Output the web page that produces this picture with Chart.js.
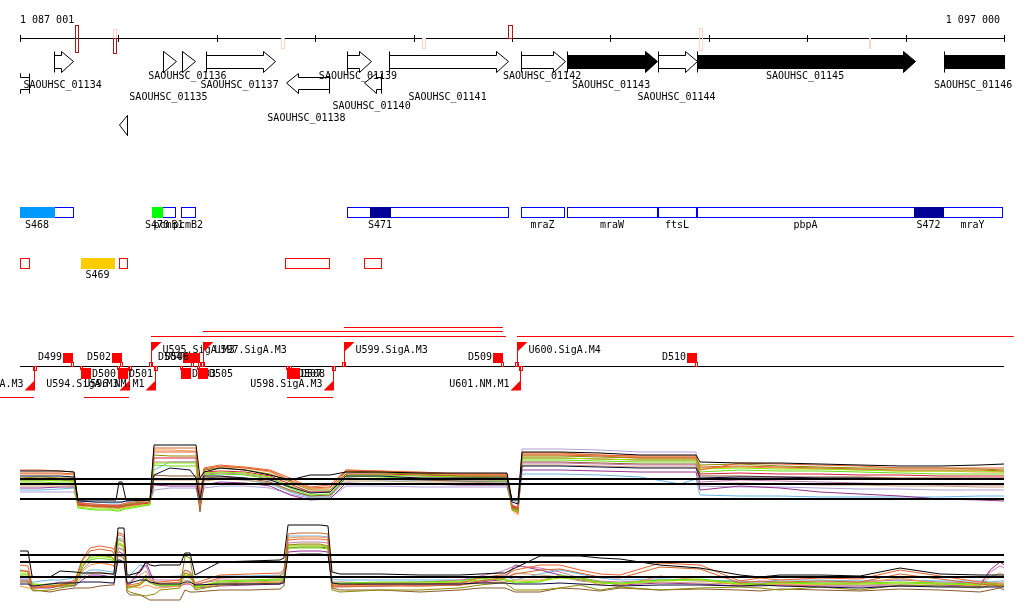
<!DOCTYPE html>
<html><head><meta charset="utf-8">
<script src="https://cdn.jsdelivr.net/npm/chart.js@4.4.0/dist/chart.umd.min.js"></script>
<style>
html,body{margin:0;padding:0;background:#fff;width:1024px;height:611px;overflow:hidden;}
.wrap{position:absolute;left:0;width:1024px;}
canvas{display:block;}
</style></head><body>
<div class="wrap" style="top:0;height:430px"><canvas id="tracks" width="1024" height="430"></canvas></div>
<div class="wrap" style="top:430px;height:95px"><canvas id="p1" width="1024" height="95"></canvas></div>
<div class="wrap" style="top:515px;height:96px"><canvas id="p2" width="1024" height="96"></canvas></div>
<script>
// ---------------- DATA ----------------
const RANGE_START = 1087001, RANGE_END = 1097001;
const axisTicks = [1087001,1088001,1089001,1090001,1091001,1092001,1093001,1094001,1095001,1096001,1097001];
const axisLabels = ['1 087 001', '1 097 000'];

const markerStart = [1087560,1087946,1087946,1089653,1091086,1091961,1093902,1095630];
const markerEnd   = [1087590,1087977,1087977,1089684,1091117,1092001,1093932,1095640];
const markerLevel = ['strong','weak','strong','weak','weak','strong','weak','weak'];
const markerSide  = ['both','above','below','below','below','above','both','below'];

const geneNames  = ['','SAOUHSC_01134','SAOUHSC_01135','SAOUHSC_01136','SAOUHSC_01137','SAOUHSC_01138','SAOUHSC_01139','SAOUHSC_01140','SAOUHSC_01141','SAOUHSC_01142','SAOUHSC_01143','SAOUHSC_01144','SAOUHSC_01145','SAOUHSC_01146',''];
const geneStart  = [1086884,1087347,1088454,1088647,1088891,1089704,1090324,1090497,1090751,1092093,1092560,1093485,1093881,1096392,1088007];
const geneEnd    = [1087092,1087540,1088586,1088779,1089593,1090141,1090568,1090670,1091961,1092540,1093475,1093881,1096097,1097266,1088088];
const geneStrand = ['-','+','+','+','+','-','+','-','+','+','+','+','+','+','-'];
const geneFilled = [false,false,false,false,false,false,false,false,false,false,true,false,true,true,false];

const annoNames = ['S468','','S470','pcmB1','pcmB2','','S471','mraZ','mraW','ftsL','pbpA','S472','mraY'];
const annoStart = [1087001,1087347,1088342,1088444,1088637,1090324,1090558,1092093,1092560,1093485,1093881,1096087,1096381];
const annoEnd   = [1087347,1087540,1088444,1088576,1088779,1091961,1090761,1092530,1093475,1093871,1096087,1096381,1096981];
const annoKind  = ['sRNA1','CDS','sRNA2','CDS','CDS','CDS','sRNA3','CDS','CDS','CDS','CDS','sRNA3','CDS'];

const otherNames = ['','S469','','',''];
const otherStart = [1087001,1087621,1088007,1089694,1090497];
const otherEnd   = [1087092,1087956,1088088,1090141,1090670];
const otherKind  = ['region','sRNA','region','region','region'];

const termNames  = ['D499','D500','D501','D502','D503','D504','D505','D506','D507','D508','D509','D510'];
const termPos    = [1087540,1087621,1087997,1088038,1088637,1088759,1088810,1088830,1089714,1089745,1091910,1093881];
const termStrand = ['+','-','-','+','-','+','-','+','-','-','+','+'];

const promNames  = ['U593.SigA.M3','U594.SigA.M3','U595.SigA.M3','U596.NM.M1','U597.SigA.M3','U598.SigA.M3','U599.SigA.M3','U600.SigA.M4','U601.NM.M1'];
const promPos    = [1087143,1088109,1088332,1088373,1088861,1090182,1090294,1092052,1092083];
const promStrand = ['-','-','+','-','+','-','+','+','-'];
const promTxEnd  = [1086700,1087651,1091940,null,1091910,1089714,1091910,1097100,null];

// expression panel 1
const p1Positions = [1087001,1087204,1087408,1087550,1087590,1087763,1087916,1087977,1088007,1088038,1088078,1088322,1088363,1088525,1088729,1088790,1088830,1088871,1089034,1089288,1089542,1089745,1089948,1090152,1090314,1090660,1091066,1091473,1091879,1091950,1092001,1092062,1092103,1092489,1092896,1093302,1093709,1093871,1093912,1094318,1094725,1095131,1095538,1095944,1096351,1096757,1097001];
const p1RefLevels = [46,41,26];
const p1Black     = [54,54,54,53,25,25,25,25,43,43,25,25,80,80,80,80,47,53,57,55,50,45,50,50,53,53,52,52,52,52,25,25,73,73,72,70,70,70,63,62,62,61,60,59,59,60,61];
const p1OrangeRed = [55,55,54,53,22,21,20,20,20,21,22,25,73,73,73,73,30,57,60,58,55,47,38,40,55,54,53,51,51,51,20,17,72,72,70,69,69,69,55,62,61,60,59,57,57,57,57];
const p1Olive     = [47,48,47,47,20,19,18,18,17,19,20,25,70,69,69,69,25,55,57,55,51,43,35,35,53,52,51,49,49,49,17,15,69,69,68,67,67,67,60,61,59,58,57,57,57,56,55];
const p1Green     = [43,43,42,42,17,15,15,14,14,15,16,20,60,59,59,59,20,50,51,50,46,37,30,31,49,48,47,46,45,45,15,13,65,65,64,63,63,63,53,55,54,54,53,52,51,51,51];
const p1LightBlue = [35,35,36,37,25,23,22,22,22,23,24,25,55,63,63,63,22,45,47,45,41,33,28,28,47,45,45,44,43,43,25,22,51,51,50,48,41,46,30,29,29,28,28,28,28,29,29];
const p1Purple    = [37,37,38,38,23,20,19,19,19,20,21,23,40,39,39,39,17,40,43,42,39,30,25,26,42,41,41,40,40,40,17,15,55,55,54,53,53,53,35,39,37,33,31,29,26,25,24];
const p1Navy      = [49,49,49,48,24,23,23,23,23,23,24,25,50,57,55,47,25,49,49,47,45,38,32,33,49,49,47,47,47,47,23,21,59,59,58,57,57,57,47,48,48,47,47,46,46,46,46];
const p1Mauve     = [41,41,41,40,21,19,18,18,18,19,19,22,63,63,63,63,23,51,52,51,47,39,33,33,51,50,49,48,48,48,19,17,62,62,61,60,60,60,43,45,44,43,42,41,40,40,40];
const p1Orange    = [51,51,51,50,19,18,17,17,17,17,18,21,75,75,74,74,19,55,58,57,53,44,36,37,55,54,52,50,50,50,15,10,71,71,70,68,68,68,57,58,57,56,55,54,54,53,53];
const p1Lavender  = [33,33,33,33,22,20,20,20,20,20,21,23,35,37,37,37,21,37,39,39,37,31,27,27,39,39,38,38,38,38,20,18,76,76,75,73,73,73,39,38,38,37,36,36,35,35,35];
const p1Brown     = [45,45,45,44,20,18,18,17,17,18,19,22,50,49,49,49,13,47,48,47,43,35,29,30,47,46,45,44,44,44,18,16,63,63,62,61,61,61,49,49,48,48,48,47,47,47,47];
const p1Red       = [46,46,46,45,21,19,19,19,19,19,20,22,67,67,67,67,20,53,54,53,49,41,33,33,51,51,50,49,49,49,19,17,67,67,66,65,65,65,51,52,51,51,50,50,49,49,49];
const p1Lime      = [45,45,44,44,18,16,16,15,15,16,17,21,62,62,62,62,21,52,53,52,48,39,32,33,50,50,49,48,47,47,16,14,67,67,66,65,65,65,56,57,56,56,55,54,54,54,53];
const p1Chocolate = [52,52,52,51,20,19,18,18,18,18,19,23,77,77,77,77,18,56,59,57,54,45,37,38,54,53,52,51,51,51,16,12,70,70,69,67,67,67,58,59,58,57,56,55,55,55,54];
const p1Tan       = [39,39,39,39,22,20,19,19,19,20,21,23,45,45,45,45,22,44,46,45,42,34,29,29,44,44,43,43,42,42,19,17,60,60,59,58,58,58,41,42,41,40,40,39,39,38,38];

// expression panel 2
const p2Positions = [1087001,1087082,1087123,1087143,1087306,1087408,1087560,1087631,1087712,1087814,1087936,1087956,1087997,1088017,1088058,1088088,1088118,1088221,1088282,1088322,1088373,1088424,1088627,1088678,1088729,1088780,1089034,1089338,1089643,1089683,1089725,1089847,1090050,1090131,1090172,1090253,1090660,1091066,1091473,1091676,1091879,1091930,1092032,1092286,1092489,1092692,1092896,1093099,1093505,1093912,1094318,1094521,1094725,1095131,1095538,1095944,1096351,1096757,1096859,1096961,1097001];
const p2RefLevels = [56,49,34];
const p2Black     = [60,60,35,34,34,40,39,38,38,38,37,37,83,83,83,36,36,39,49,46,45,46,46,58,58,36,49,50,51,53,86,86,86,85,39,37,37,36,36,37,38,38,43,55,55,55,53,52,46,43,36,34,36,36,35,43,37,36,36,36,36];
const p2OrangeRed = [46,45,26,25,25,26,31,51,63,65,63,61,76,76,74,26,26,28,36,31,29,29,31,41,39,28,36,37,38,41,71,72,72,71,26,26,27,27,28,33,36,36,41,46,46,41,37,36,48,46,30,33,31,33,32,41,35,29,28,28,28];
const p2Olive     = [41,39,21,20,21,23,26,43,55,56,54,51,71,71,69,21,19,16,15,16,17,21,23,55,53,21,26,27,28,31,66,67,67,65,21,19,21,21,23,26,28,28,21,21,23,26,21,24,21,23,24,23,21,24,21,26,25,23,26,25,25];
const p2Green     = [36,36,28,27,26,25,26,46,51,53,51,48,66,66,63,23,23,26,31,28,26,25,26,36,35,23,29,30,31,33,63,63,63,62,28,28,29,29,30,33,31,31,28,29,36,33,29,28,31,32,28,27,29,28,28,29,28,27,28,27,27];
const p2LightBlue = [33,33,29,29,31,31,33,36,41,41,39,39,73,73,71,33,36,46,45,36,34,34,35,41,39,33,35,35,36,39,75,75,75,74,32,31,31,31,31,33,35,35,31,37,41,37,33,31,32,31,30,29,31,31,30,31,30,30,29,30,30];
const p2Purple    = [31,31,23,23,23,25,25,31,36,36,34,33,59,59,56,25,27,41,49,39,26,25,25,27,27,23,25,26,27,28,59,60,60,59,25,25,25,26,26,29,31,33,46,41,36,31,29,26,28,27,25,25,26,25,25,25,26,25,41,49,46];
const p2Navy      = [27,27,25,25,27,28,28,29,29,29,28,28,51,51,49,28,28,31,31,29,28,27,27,29,29,26,27,27,27,29,56,57,57,56,28,27,27,27,27,28,28,28,27,27,28,27,26,25,26,26,25,26,25,24,23,25,24,24,24,24,24];
const p2Mauve     = [35,34,27,26,27,29,29,41,49,49,46,45,63,63,61,27,29,39,46,35,31,31,31,34,33,27,31,31,32,34,68,69,69,68,29,29,28,29,31,35,39,41,45,43,39,33,30,29,31,30,29,29,28,29,29,31,29,28,39,45,43];
const p2Brown     = [29,29,21,21,19,21,23,23,23,25,26,26,55,55,53,19,16,16,13,11,11,11,11,21,19,19,21,21,22,25,63,64,64,63,23,21,21,19,21,23,23,23,19,19,23,22,20,23,21,22,21,20,22,21,20,22,21,19,21,23,21];
const p2Orange    = [25,23,23,23,25,26,28,39,46,48,46,44,67,67,65,24,25,23,26,25,23,23,25,28,27,23,27,28,29,31,73,74,74,73,26,25,26,25,26,28,29,29,31,31,35,33,26,25,35,31,26,27,26,26,28,33,27,25,25,25,25];
const p2Lime      = [38,37,27,26,27,27,28,48,53,55,53,50,68,68,65,24,24,27,33,29,27,26,27,38,37,24,30,31,32,35,65,65,65,64,27,27,28,28,29,31,32,32,29,30,33,32,28,27,30,31,27,26,28,27,27,28,27,26,27,26,26];
const p2Chocolate = [40,40,24,23,24,25,29,50,60,62,60,57,78,78,76,24,24,26,32,29,27,27,29,38,36,26,33,34,35,38,77,78,78,77,24,24,25,25,26,30,33,33,37,41,42,38,34,33,44,42,28,30,29,30,29,37,32,27,26,26,26];
const p2Tan       = [30,30,24,24,25,26,27,34,38,39,37,36,62,62,60,26,28,36,40,33,29,28,28,31,30,25,28,29,30,32,66,66,66,65,27,27,27,27,28,30,32,33,38,36,34,30,28,27,29,28,27,27,27,27,26,27,27,26,34,38,36];

// ---------------- LAYOUT / STYLE ----------------
const FONT = '10px "DejaVu Sans Mono", "Liberation Mono", monospace';
const AXIS_Y = 38.5;
const GENE_LANES = [{top:51,bot:72,st:55,sb:68},{top:73,bot:93,st:77,sb:89},{top:115,bot:135,st:119,sb:131}];
const geneLane = [1,0,0,0,0,1,0,1,0,0,0,0,0,0,2];
const geneLabelY = [null,85,97,76,85,118,76,106,97,76,85,97,76,85,null];
const ANNO_TOP = 207, ANNO_BOT = 217, ANNO_LABEL_Y = 225;
const OTHER_TOP = 258, OTHER_BOT = 268, OTHER_LABEL_Y = 275;
const TX_LINE_Y = 366.5;
const promLaneY = [397,397,336,null,331,397,327,336,null];
const RED = '#ff0000';

const trackPlugin = {
  id: 'tracks',
  afterDraw(chart) {
    const ctx = chart.ctx, xs = chart.scales.x, area = chart.chartArea;
    const X = v => xs.getPixelForValue(v);
    const R = v => Math.round(X(v));
    ctx.save();
    ctx.font = FONT;
    ctx.textBaseline = 'middle';
    ctx.lineWidth = 1;

    // ---- coordinate axis ----
    ctx.strokeStyle = '#000';
    ctx.beginPath();
    ctx.moveTo(X(RANGE_START), AXIS_Y); ctx.lineTo(X(RANGE_END), AXIS_Y);
    axisTicks.forEach(t => { const x = R(t) + 0.5; ctx.moveTo(x, 35); ctx.lineTo(x, 42); });
    ctx.stroke();
    ctx.fillStyle = '#000';
    ctx.textAlign = 'left'; ctx.fillText(axisLabels[0], X(RANGE_START), 20);
    ctx.textAlign = 'right'; ctx.fillText(axisLabels[1], X(RANGE_END) - 4, 20);

    // ---- markers on axis ----
    markerStart.forEach((s, i) => {
      const strong = markerLevel[i] === 'strong';
      let t, b;
      if (markerSide[i] === 'both') { t = strong ? 25 : 28; b = strong ? 52 : 50; }
      else if (markerSide[i] === 'above') { t = strong ? 25 : 29; b = 38; }
      else { t = 38; b = strong ? 53 : 48; }
      const x1 = R(s), x2 = Math.max(R(markerEnd[i]), x1 + 1);
      ctx.strokeStyle = strong ? '#b01818' : '#ffd2c2';
      ctx.strokeRect(x1 + 0.5, t + 0.5, x2 - x1, b - t);
    });

    // ---- genes ----
    ctx.save();
    ctx.beginPath(); ctx.rect(area.left, 0, area.right - area.left + 1, 430); ctx.clip();
    geneStart.forEach((s, i) => {
      const L = GENE_LANES[geneLane[i]];
      const x1 = R(s) + 0.5, x2 = R(geneEnd[i]) + 0.5;
      const len = x2 - x1, hl = Math.min(12, len), yc = (L.top + L.bot) / 2;
      const top = L.top + 0.5, bot = L.bot + 0.5, st = L.st + 0.5, sb = L.sb + 0.5;
      ctx.beginPath();
      if (geneStrand[i] === '+') {
        if (len <= 14) { ctx.moveTo(x1, top); ctx.lineTo(x2, yc); ctx.lineTo(x1, bot); }
        else {
          ctx.moveTo(x1, st); ctx.lineTo(x2 - hl, st); ctx.lineTo(x2 - hl, top); ctx.lineTo(x2, yc);
          ctx.lineTo(x2 - hl, bot); ctx.lineTo(x2 - hl, sb); ctx.lineTo(x1, sb);
        }
      } else {
        if (len <= 14) { ctx.moveTo(x2, top); ctx.lineTo(x1, yc); ctx.lineTo(x2, bot); }
        else {
          ctx.moveTo(x2, st); ctx.lineTo(x1 + hl, st); ctx.lineTo(x1 + hl, top); ctx.lineTo(x1, yc);
          ctx.lineTo(x1 + hl, bot); ctx.lineTo(x1 + hl, sb); ctx.lineTo(x2, sb);
        }
      }
      ctx.closePath();
      ctx.fillStyle = geneFilled[i] ? '#000' : '#fff';
      ctx.fill();
      ctx.strokeStyle = '#000'; ctx.stroke();
      const bx = geneStrand[i] === '+' ? x1 : x2;
      ctx.beginPath(); ctx.moveTo(bx, top); ctx.lineTo(bx, bot); ctx.stroke();
    });
    ctx.restore();
    ctx.fillStyle = '#000'; ctx.textAlign = 'center';
    geneNames.forEach((n, i) => {
      if (!n) return;
      const a = Math.max(X(geneStart[i]), area.left), b = Math.min(X(geneEnd[i]), area.right);
      ctx.fillText(n, (a + b) / 2 - 1, geneLabelY[i]);
    });

    // ---- annotation track (blue) ----
    const annoFill = {sRNA1: '#0099ff', sRNA2: '#00ff00', sRNA3: '#000099'};
    annoStart.forEach((s, i) => {
      if (annoKind[i] !== 'CDS') return;
      const x1 = R(s), x2 = R(annoEnd[i]);
      ctx.fillStyle = '#fff'; ctx.fillRect(x1, ANNO_TOP, x2 - x1, ANNO_BOT - ANNO_TOP);
      ctx.strokeStyle = '#0000ff'; ctx.strokeRect(x1 + 0.5, ANNO_TOP + 0.5, x2 - x1, ANNO_BOT - ANNO_TOP);
    });
    annoStart.forEach((s, i) => {
      if (annoKind[i] === 'CDS') return;
      const x1 = R(s), x2 = R(annoEnd[i]);
      ctx.fillStyle = annoFill[annoKind[i]];
      ctx.fillRect(x1, ANNO_TOP, x2 - x1 + 1, ANNO_BOT - ANNO_TOP + 1);
    });
    ctx.fillStyle = '#000'; ctx.textAlign = 'center';
    annoNames.forEach((n, i) => { if (n) ctx.fillText(n, (X(annoStart[i]) + X(annoEnd[i])) / 2, ANNO_LABEL_Y); });

    // ---- other track (red / yellow) ----
    otherStart.forEach((s, i) => {
      const x1 = R(s), x2 = R(otherEnd[i]);
      if (otherKind[i] === 'sRNA') { ctx.fillStyle = '#ffcc00'; ctx.fillRect(x1, OTHER_TOP, x2 - x1 + 1, OTHER_BOT - OTHER_TOP + 1); }
      else { ctx.strokeStyle = RED; ctx.strokeRect(x1 + 0.5, OTHER_TOP + 0.5, x2 - x1, OTHER_BOT - OTHER_TOP); }
    });
    ctx.fillStyle = '#000';
    otherNames.forEach((n, i) => { if (n) ctx.fillText(n, (X(otherStart[i]) + X(otherEnd[i])) / 2, OTHER_LABEL_Y); });

    // ---- transcription units ----
    ctx.strokeStyle = '#000';
    ctx.beginPath(); ctx.moveTo(X(RANGE_START), TX_LINE_Y); ctx.lineTo(X(RANGE_END), TX_LINE_Y); ctx.stroke();
    ctx.strokeStyle = RED; ctx.fillStyle = RED;
    promPos.forEach((p, i) => {
      if (promTxEnd[i] === null) return;
      const y = promLaneY[i] + 0.5;
      ctx.beginPath(); ctx.moveTo(X(p), y); ctx.lineTo(X(promTxEnd[i]), y); ctx.stroke();
    });
    promPos.forEach((p, i) => {
      const x = R(p) + 0.5;
      ctx.fillStyle = RED; ctx.strokeStyle = RED;
      if (promStrand[i] === '+') {
        ctx.beginPath(); ctx.moveTo(x, 342); ctx.lineTo(x, 366); ctx.stroke();
        ctx.beginPath(); ctx.moveTo(x - 0.5, 342); ctx.lineTo(x + 10, 342); ctx.lineTo(x - 0.5, 352); ctx.closePath(); ctx.fill();
        ctx.strokeRect(x - 2, 362.5, 3, 4);
        ctx.fillStyle = '#000'; ctx.textAlign = 'left'; ctx.fillText(promNames[i], x + 11, 350);
      } else {
        ctx.beginPath(); ctx.moveTo(x, 367); ctx.lineTo(x, 390); ctx.stroke();
        ctx.beginPath(); ctx.moveTo(x + 0.5, 390.5); ctx.lineTo(x - 10, 390.5); ctx.lineTo(x + 0.5, 380); ctx.closePath(); ctx.fill();
        ctx.strokeRect(x - 1, 366.5, 3, 4);
        ctx.fillStyle = '#000'; ctx.textAlign = 'right'; ctx.fillText(promNames[i], x - 11, 384);
      }
    });
    termPos.forEach((p, i) => {
      const x = R(p);
      ctx.fillStyle = RED; ctx.strokeStyle = RED;
      if (termStrand[i] === '+') {
        ctx.fillRect(x - 10, 353, 10, 10);
        ctx.strokeRect(x - 2 + 0.5, 362.5, 2, 4);
        ctx.fillStyle = '#000'; ctx.textAlign = 'right'; ctx.fillText(termNames[i], x - 11, 357);
      } else {
        ctx.fillRect(x, 368, 10, 11);
        ctx.strokeRect(x - 1 + 0.5, 366.5, 2, 3);
        ctx.fillStyle = '#000'; ctx.textAlign = 'left'; ctx.fillText(termNames[i], x + 11, 374);
      }
    });
    ctx.restore();
  }
};

function baseOptions(ymin, ymax) {
  return {
    responsive: false, animation: false, devicePixelRatio: 1, events: [],
    layout: {padding: {left: 20, right: 20, top: 0, bottom: 0}},
    plugins: {legend: {display: false}, tooltip: {enabled: false}},
    scales: {
      x: {type: 'linear', min: RANGE_START, max: RANGE_END, display: false},
      y: {type: 'linear', min: ymin, max: ymax, display: false}
    }
  };
}

new Chart(document.getElementById('tracks'), {
  type: 'scatter',
  data: {datasets: []},
  options: baseOptions(0, 430),
  plugins: [trackPlugin]
});

function series(pos, vals, color) {
  return {data: pos.map((x, i) => ({x: x, y: vals[i]})), borderColor: color, borderWidth: 1,
          pointRadius: 0, fill: false, tension: 0};
}
function refLine(v) {
  return {data: [{x: RANGE_START, y: v}, {x: RANGE_END, y: v}], borderColor: '#000', borderWidth: 2,
          pointRadius: 0, fill: false};
}
const COLORS = {black:'#000000', orangeRed:'#e8602c', olive:'#8a8a00', green:'#66dd11', lightBlue:'#66b8e8',
  purple:'#9b2f8f', navy:'#0a0a3c', mauve:'#cc77aa', orange:'#ff9040', lavender:'#b0a0d8', brown:'#8b5a2b',
  red:'#dd1a3a', lime:'#88ee00', chocolate:'#d2642a', tan:'#c8a070'};

new Chart(document.getElementById('p1'), {
  type: 'line',
  data: {datasets: [
    ...p1RefLevels.map(refLine),
    series(p1Positions, p1Black, COLORS.black),
    series(p1Positions, p1Navy, COLORS.navy),
    series(p1Positions, p1OrangeRed, COLORS.orangeRed),
    series(p1Positions, p1Chocolate, COLORS.chocolate),
    series(p1Positions, p1Olive, COLORS.olive),
    series(p1Positions, p1Lime, COLORS.lime),
    series(p1Positions, p1Green, COLORS.green),
    series(p1Positions, p1Orange, COLORS.orange),
    series(p1Positions, p1Red, COLORS.red),
    series(p1Positions, p1Mauve, COLORS.mauve),
    series(p1Positions, p1Brown, COLORS.brown),
    series(p1Positions, p1Tan, COLORS.tan),
    series(p1Positions, p1Purple, COLORS.purple),
    series(p1Positions, p1LightBlue, COLORS.lightBlue),
    series(p1Positions, p1Lavender, COLORS.lavender)
  ]},
  options: baseOptions(0, 95)
});

new Chart(document.getElementById('p2'), {
  type: 'line',
  data: {datasets: [
    ...p2RefLevels.map(refLine),
    series(p2Positions, p2Black, COLORS.black),
    series(p2Positions, p2Navy, COLORS.navy),
    series(p2Positions, p2OrangeRed, COLORS.orangeRed),
    series(p2Positions, p2Chocolate, COLORS.chocolate),
    series(p2Positions, p2Olive, COLORS.olive),
    series(p2Positions, p2Lime, COLORS.lime),
    series(p2Positions, p2Green, COLORS.green),
    series(p2Positions, p2Orange, COLORS.orange),
    series(p2Positions, p2Mauve, COLORS.mauve),
    series(p2Positions, p2Brown, COLORS.brown),
    series(p2Positions, p2Tan, COLORS.tan),
    series(p2Positions, p2Purple, COLORS.purple),
    series(p2Positions, p2LightBlue, COLORS.lightBlue)
  ]},
  options: baseOptions(0, 96)
});
</script></body></html>
